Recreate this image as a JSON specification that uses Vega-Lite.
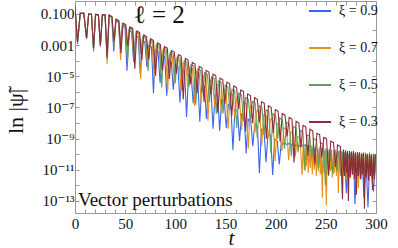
{
"$schema":"https://vega.github.io/schema/vega-lite/v6.json",
"width":301,"height":212,
"autosize":{"type":"none"},
"padding":{"left":75,"top":1,"right":22,"bottom":35},
"background":"white",
"config":{"font":"Liberation Serif, Times New Roman, DejaVu Serif, serif","view":{"stroke":"#999999","strokeWidth":1}},
"data":{"values":[
{"s":"0.9","t":0,"v":0.3},{"s":"0.9","t":2.5,"v":1.2e-3},{"s":"0.9","t":5.2,"v":0.11},{"s":"0.9","t":8.8,"v":0.11},{"s":"0.9","t":11.5,"v":2.5e-3},{"s":"0.9","t":13.6,"v":0.1},{"s":"0.9","t":16.4,"v":0.095},{"s":"0.9","t":18.5,"v":5e-4},{"s":"0.9","t":20.5,"v":0.095},{"s":"0.9","t":23.3,"v":0.09},{"s":"0.9","t":25.3,"v":8e-4},{"s":"0.9","t":27.3,"v":0.09},{"s":"0.9","t":30,"v":0.088},{"s":"0.9","t":32,"v":1.2e-4},
{"s":"0.9","t":33.98,"v":8.3e-2},{"s":"0.9","t":36.62,"v":6.2e-2},{"s":"0.9","t":38.6,"v":3.9e-4},
{"s":"0.9","t":40.58,"v":4.0e-2},{"s":"0.9","t":43.22,"v":3.0e-2},{"s":"0.9","t":45.2,"v":6.0e-4},
{"s":"0.9","t":47.18,"v":1.9e-2},{"s":"0.9","t":49.82,"v":1.4e-2},{"s":"0.9","t":51.8,"v":2.3e-5},
{"s":"0.9","t":53.78,"v":9.2e-3},{"s":"0.9","t":56.42,"v":6.9e-3},{"s":"0.9","t":58.4,"v":8.7e-5},
{"s":"0.9","t":60.38,"v":4.4e-3},{"s":"0.9","t":63.02,"v":3.3e-3},{"s":"0.9","t":65,"v":1.3e-5},
{"s":"0.9","t":66.98,"v":2.1e-3},{"s":"0.9","t":69.62,"v":1.6e-3},{"s":"0.9","t":71.6,"v":4.1e-5},
{"s":"0.9","t":73.58,"v":1.0e-3},{"s":"0.9","t":76.22,"v":7.6e-4},{"s":"0.9","t":78.2,"v":7.8e-7},
{"s":"0.9","t":80.18,"v":4.9e-4},{"s":"0.9","t":82.82,"v":3.7e-4},{"s":"0.9","t":84.8,"v":3.7e-6},
{"s":"0.9","t":86.78,"v":2.4e-4},{"s":"0.9","t":89.42,"v":1.8e-4},{"s":"0.9","t":91.4,"v":5.6e-7},
{"s":"0.9","t":93.38,"v":1.1e-4},{"s":"0.9","t":96.02,"v":8.5e-5},{"s":"0.9","t":98,"v":1.4e-6},
{"s":"0.9","t":99.98,"v":5.5e-5},{"s":"0.9","t":102.62,"v":4.1e-5},{"s":"0.9","t":104.6,"v":2.1e-7},
{"s":"0.9","t":106.58,"v":2.6e-5},{"s":"0.9","t":109.22,"v":2.0e-5},{"s":"0.9","t":111.2,"v":2.5e-8},
{"s":"0.9","t":113.18,"v":1.3e-5},{"s":"0.9","t":115.82,"v":9.5e-6},{"s":"0.9","t":117.8,"v":1.9e-7},
{"s":"0.9","t":119.78,"v":6.1e-6},{"s":"0.9","t":122.42,"v":4.6e-6},{"s":"0.9","t":124.4,"v":1.2e-8},
{"s":"0.9","t":126.38,"v":2.9e-6},{"s":"0.9","t":129.02,"v":2.2e-6},{"s":"0.9","t":131,"v":1.8e-8},
{"s":"0.9","t":132.98,"v":1.4e-6},{"s":"0.9","t":135.62,"v":1.1e-6},{"s":"0.9","t":137.6,"v":4.3e-9},
{"s":"0.9","t":139.58,"v":6.8e-7},{"s":"0.9","t":142.22,"v":5.1e-7},{"s":"0.9","t":144.2,"v":3.2e-9},
{"s":"0.9","t":146.18,"v":3.3e-7},{"s":"0.9","t":148.82,"v":2.4e-7},{"s":"0.9","t":150.8,"v":4.9e-9},
{"s":"0.9","t":152.78,"v":1.6e-7},{"s":"0.9","t":155.42,"v":1.2e-7},{"s":"0.9","t":157.4,"v":1.9e-10},
{"s":"0.9","t":159.38,"v":7.6e-8},{"s":"0.9","t":162.02,"v":5.7e-8},{"s":"0.9","t":164,"v":7.2e-10},
{"s":"0.9","t":165.98,"v":3.7e-8},{"s":"0.9","t":168.62,"v":2.7e-8},{"s":"0.9","t":170.6,"v":1.1e-10},
{"s":"0.9","t":172.58,"v":1.8e-8},{"s":"0.9","t":175.22,"v":1.3e-8},{"s":"0.9","t":177.2,"v":3.3e-10},
{"s":"0.9","t":179.18,"v":8.5e-9},{"s":"0.9","t":181.82,"v":6.3e-9},{"s":"0.9","t":183.8,"v":6.3e-12},
{"s":"0.9","t":185.78,"v":4.1e-9},{"s":"0.9","t":188.42,"v":3.0e-9},{"s":"0.9","t":190.4,"v":3.1e-11},
{"s":"0.9","t":192.38,"v":2.0e-9},{"s":"0.9","t":195.02,"v":1.5e-9},{"s":"0.9","t":197,"v":4.7e-12},
{"s":"0.9","t":198.98,"v":9.4e-10},{"s":"0.9","t":201.62,"v":7.0e-10},{"s":"0.9","t":203.6,"v":2.2e-11},
{"s":"0.9","t":205.6,"v":5.6e-10},{"s":"0.9","t":207.5,"v":4.5e-10},{"s":"0.9","t":209.5,"v":5.2e-10},{"s":"0.9","t":211.5,"v":4.0e-10},{"s":"0.9","t":213.5,"v":5.0e-10},{"s":"0.9","t":215.5,"v":3.8e-10},{"s":"0.9","t":217.5,"v":4.7e-10},{"s":"0.9","t":219.5,"v":3.5e-10},{"s":"0.9","t":221.5,"v":4.4e-10},{"s":"0.9","t":223.5,"v":3.3e-10},{"s":"0.9","t":225.5,"v":4.2e-10},{"s":"0.9","t":227.5,"v":3.2e-10},{"s":"0.9","t":229.5,"v":4.0e-10},{"s":"0.9","t":231.5,"v":2.8e-10},{"s":"0.9","t":233.5,"v":3.5e-10},
{"s":"0.9","t":236,"v":6.3e-11},{"s":"0.9","t":238.5,"v":2.5e-10},{"s":"0.9","t":241,"v":1.6e-11},{"s":"0.9","t":243.5,"v":2.0e-10},{"s":"0.9","t":246,"v":6.3e-12},{"s":"0.9","t":248.5,"v":1.6e-10},{"s":"0.9","t":251,"v":2.5e-11},{"s":"0.9","t":253.5,"v":2.0e-10},{"s":"0.9","t":256,"v":1e-11},{"s":"0.9","t":258.5,"v":1.3e-10},{"s":"0.9","t":261,"v":3.2e-11},{"s":"0.9","t":263.5,"v":1.6e-10},{"s":"0.9","t":266,"v":5.0e-12},{"s":"0.9","t":268.5,"v":1.3e-10},{"s":"0.9","t":270.5,"v":3.2e-13},{"s":"0.9","t":272.5,"v":1.0e-10},{"s":"0.9","t":275,"v":1.6e-11},{"s":"0.9","t":277.5,"v":1.3e-10},{"s":"0.9","t":279,"v":6.3e-14},{"s":"0.9","t":281,"v":7.9e-11},{"s":"0.9","t":283.5,"v":1.3e-11},{"s":"0.9","t":286,"v":1.0e-10},{"s":"0.9","t":288,"v":1.6e-13},{"s":"0.9","t":290,"v":6.3e-11},{"s":"0.9","t":292,"v":4.0e-14},{"s":"0.9","t":294,"v":7.9e-11},{"s":"0.9","t":296,"v":3.2e-12},{"s":"0.9","t":297.5,"v":4.0e-13},{"s":"0.9","t":299.5,"v":5.0e-11},

{"s":"0.7","t":0,"v":0.3},{"s":"0.7","t":2.5,"v":1.5e-3},{"s":"0.7","t":5.2,"v":0.11},{"s":"0.7","t":8.8,"v":0.11},{"s":"0.7","t":11.5,"v":2.7e-3},{"s":"0.7","t":13.6,"v":0.1},{"s":"0.7","t":16.4,"v":0.095},{"s":"0.7","t":18.5,"v":6e-4},{"s":"0.7","t":20.5,"v":0.095},{"s":"0.7","t":23.3,"v":0.09},{"s":"0.7","t":25.3,"v":9e-4},{"s":"0.7","t":27.3,"v":0.09},{"s":"0.7","t":30,"v":0.088},{"s":"0.7","t":32,"v":6e-5},
{"s":"0.7","t":34.01,"v":8.4e-2},{"s":"0.7","t":36.69,"v":6.5e-2},{"s":"0.7","t":38.7,"v":1.1e-3},
{"s":"0.7","t":40.71,"v":4.4e-2},{"s":"0.7","t":43.39,"v":3.4e-2},{"s":"0.7","t":45.4,"v":1.1e-4},
{"s":"0.7","t":47.41,"v":2.3e-2},{"s":"0.7","t":50.09,"v":1.8e-2},{"s":"0.7","t":52.1,"v":5.9e-4},
{"s":"0.7","t":54.11,"v":1.2e-2},{"s":"0.7","t":56.79,"v":9.5e-3},{"s":"0.7","t":58.8,"v":1.0e-4},
{"s":"0.7","t":60.81,"v":6.5e-3},{"s":"0.7","t":63.49,"v":5.0e-3},{"s":"0.7","t":65.5,"v":6.6e-6},
{"s":"0.7","t":67.51,"v":3.4e-3},{"s":"0.7","t":70.19,"v":2.7e-3},{"s":"0.7","t":72.2,"v":6.9e-5},
{"s":"0.7","t":74.21,"v":1.8e-3},{"s":"0.7","t":76.89,"v":1.4e-3},{"s":"0.7","t":78.9,"v":9.2e-6},
{"s":"0.7","t":80.91,"v":9.6e-4},{"s":"0.7","t":83.59,"v":7.4e-4},{"s":"0.7","t":85.6,"v":3.1e-5},
{"s":"0.7","t":87.61,"v":5.0e-4},{"s":"0.7","t":90.29,"v":3.9e-4},{"s":"0.7","t":92.3,"v":1.0e-6},
{"s":"0.7","t":94.31,"v":2.7e-4},{"s":"0.7","t":96.99,"v":2.1e-4},{"s":"0.7","t":99,"v":4.3e-6},
{"s":"0.7","t":101.01,"v":1.4e-4},{"s":"0.7","t":103.69,"v":1.1e-4},{"s":"0.7","t":105.7,"v":1.1e-6},
{"s":"0.7","t":107.71,"v":7.4e-5},{"s":"0.7","t":110.39,"v":5.8e-5},{"s":"0.7","t":112.4,"v":1.9e-6},
{"s":"0.7","t":114.41,"v":3.9e-5},{"s":"0.7","t":117.09,"v":3.0e-5},{"s":"0.7","t":119.1,"v":1.3e-7},
{"s":"0.7","t":121.11,"v":2.1e-5},{"s":"0.7","t":123.79,"v":1.6e-5},{"s":"0.7","t":125.8,"v":2.1e-7},
{"s":"0.7","t":127.81,"v":1.1e-5},{"s":"0.7","t":130.49,"v":8.5e-6},{"s":"0.7","t":132.5,"v":1.4e-8},
{"s":"0.7","t":134.51,"v":5.8e-6},{"s":"0.7","t":137.19,"v":4.5e-6},{"s":"0.7","t":139.2,"v":1.2e-7},
{"s":"0.7","t":141.21,"v":3.0e-6},{"s":"0.7","t":143.89,"v":2.4e-6},{"s":"0.7","t":145.9,"v":3.9e-8},
{"s":"0.7","t":147.91,"v":1.6e-6},{"s":"0.7","t":150.59,"v":1.2e-6},{"s":"0.7","t":152.6,"v":4.1e-9},
{"s":"0.7","t":154.61,"v":8.5e-7},{"s":"0.7","t":157.29,"v":6.6e-7},{"s":"0.7","t":159.3,"v":2.2e-8},
{"s":"0.7","t":161.31,"v":4.5e-7},{"s":"0.7","t":163.99,"v":3.5e-7},{"s":"0.7","t":166,"v":3.6e-9},
{"s":"0.7","t":168.01,"v":2.4e-7},{"s":"0.7","t":170.69,"v":1.8e-7},{"s":"0.7","t":172.7,"v":2.4e-10},
{"s":"0.7","t":174.71,"v":1.3e-7},{"s":"0.7","t":177.39,"v":9.7e-8},{"s":"0.7","t":179.4,"v":2.5e-9},
{"s":"0.7","t":181.41,"v":6.6e-8},{"s":"0.7","t":184.09,"v":5.1e-8},{"s":"0.7","t":186.1,"v":3.4e-10},
{"s":"0.7","t":188.11,"v":3.5e-8},{"s":"0.7","t":190.79,"v":2.7e-8},{"s":"0.7","t":192.8,"v":1.1e-9},
{"s":"0.7","t":194.81,"v":1.8e-8},{"s":"0.7","t":197.49,"v":1.4e-8},{"s":"0.7","t":199.5,"v":3.7e-11},
{"s":"0.7","t":201.51,"v":9.7e-9},{"s":"0.7","t":204.19,"v":7.5e-9},{"s":"0.7","t":206.2,"v":1.6e-10},
{"s":"0.7","t":208.21,"v":5.1e-9},{"s":"0.7","t":210.89,"v":4.0e-9},{"s":"0.7","t":212.9,"v":4.2e-11},
{"s":"0.7","t":214.91,"v":2.7e-9},{"s":"0.7","t":217.59,"v":2.1e-9},{"s":"0.7","t":219.6,"v":6.9e-11},
{"s":"0.7","t":221.61,"v":1.4e-9},{"s":"0.7","t":224.29,"v":1.1e-9},{"s":"0.7","t":226.3,"v":4.6e-12},
{"s":"0.7","t":227.5,"v":5.0e-10},{"s":"0.7","t":228.5,"v":1.0e-11},{"s":"0.7","t":229.5,"v":3.5e-10},{"s":"0.7","t":230.5,"v":1.6e-11},{"s":"0.7","t":231.5,"v":4.0e-10},{"s":"0.7","t":232.5,"v":6.3e-12},{"s":"0.7","t":233.5,"v":3.2e-10},{"s":"0.7","t":234.5,"v":1.3e-11},{"s":"0.7","t":235.5,"v":3.5e-10},{"s":"0.7","t":236.5,"v":5.0e-12},{"s":"0.7","t":237.5,"v":2.8e-10},{"s":"0.7","t":238.5,"v":1.0e-11},{"s":"0.7","t":239.5,"v":3.2e-10},{"s":"0.7","t":240.5,"v":4.0e-12},{"s":"0.7","t":241.5,"v":2.5e-10},{"s":"0.7","t":242.5,"v":7.9e-12},{"s":"0.7","t":243.5,"v":2.8e-10},{"s":"0.7","t":244.5,"v":5.0e-12},{"s":"0.7","t":245.5,"v":2.5e-10},{"s":"0.7","t":246.5,"v":1.6e-13},{"s":"0.7","t":247.5,"v":2.2e-10},{"s":"0.7","t":248.5,"v":6.3e-12},{"s":"0.7","t":249.5,"v":2.5e-10},{"s":"0.7","t":250.5,"v":5.0e-14},{"s":"0.7","t":251.5,"v":2.0e-10},{"s":"0.7","t":252.5,"v":5.0e-12},{"s":"0.7","t":253.5,"v":2.2e-10},{"s":"0.7","t":254.5,"v":7.9e-12},{"s":"0.7","t":255.5,"v":2.0e-10},{"s":"0.7","t":256.5,"v":3.2e-12},{"s":"0.7","t":257.5,"v":1.8e-10},{"s":"0.7","t":258.5,"v":6.3e-12},{"s":"0.7","t":259.5,"v":2.0e-10},{"s":"0.7","t":260.5,"v":4.0e-12},{"s":"0.7","t":261.5,"v":1.6e-10},{"s":"0.7","t":262.5,"v":3.2e-13},{"s":"0.7","t":263.5,"v":1.8e-10},{"s":"0.7","t":264.5,"v":5.0e-12},{"s":"0.7","t":265.5,"v":1.6e-10},{"s":"0.7","t":266.5,"v":3.2e-12},{"s":"0.7","t":267.5,"v":1.8e-10},{"s":"0.7","t":268.5,"v":6.3e-12},{"s":"0.7","t":269.5,"v":1.4e-10},{"s":"0.7","t":270.5,"v":2.5e-12},{"s":"0.7","t":271.5,"v":1.6e-10},{"s":"0.7","t":272.5,"v":5.0e-12},{"s":"0.7","t":273.5,"v":1.4e-10},{"s":"0.7","t":274.5,"v":3.2e-12},{"s":"0.7","t":275.5,"v":1.6e-10},{"s":"0.7","t":276.5,"v":5.0e-12},{"s":"0.7","t":277.5,"v":1.3e-10},{"s":"0.7","t":278.5,"v":2.5e-12},{"s":"0.7","t":279.5,"v":1.4e-10},{"s":"0.7","t":280.5,"v":4.0e-12},{"s":"0.7","t":281.5,"v":1.3e-10},{"s":"0.7","t":282.5,"v":6.3e-13},{"s":"0.7","t":283.5,"v":1.4e-10},{"s":"0.7","t":284.5,"v":3.2e-12},{"s":"0.7","t":285.5,"v":1.3e-10},{"s":"0.7","t":286.5,"v":5.0e-12},{"s":"0.7","t":287.5,"v":1.1e-10},{"s":"0.7","t":288.5,"v":2.5e-12},{"s":"0.7","t":289.5,"v":1.3e-10},{"s":"0.7","t":290.5,"v":4.0e-12},{"s":"0.7","t":291.5,"v":1.1e-10},{"s":"0.7","t":292.5,"v":2.0e-12},{"s":"0.7","t":293.5,"v":1.3e-10},{"s":"0.7","t":294.5,"v":4.0e-12},{"s":"0.7","t":295.5,"v":1.0e-10},{"s":"0.7","t":296.5,"v":2.5e-12},{"s":"0.7","t":297.5,"v":1.1e-10},{"s":"0.7","t":298.5,"v":3.2e-12},{"s":"0.7","t":299.5,"v":1.0e-10},

{"s":"0.5","t":0,"v":0.3},{"s":"0.5","t":2.5,"v":1.5e-3},{"s":"0.5","t":5.2,"v":0.11},{"s":"0.5","t":8.8,"v":0.11},{"s":"0.5","t":11.5,"v":2.8e-3},{"s":"0.5","t":13.6,"v":0.1},{"s":"0.5","t":16.4,"v":0.095},{"s":"0.5","t":18.5,"v":4e-4},{"s":"0.5","t":20.5,"v":0.095},{"s":"0.5","t":23.3,"v":0.09},{"s":"0.5","t":25.3,"v":1e-3},{"s":"0.5","t":27.3,"v":0.09},{"s":"0.5","t":30,"v":0.088},{"s":"0.5","t":32,"v":1.5e-4},
{"s":"0.5","t":34.04,"v":8.4e-2},{"s":"0.5","t":36.76,"v":6.6e-2},{"s":"0.5","t":38.8,"v":6.9e-4},
{"s":"0.5","t":40.84,"v":4.6e-2},{"s":"0.5","t":43.56,"v":3.6e-2},{"s":"0.5","t":45.6,"v":1.2e-3},
{"s":"0.5","t":47.64,"v":2.5e-2},{"s":"0.5","t":50.36,"v":1.9e-2},{"s":"0.5","t":52.4,"v":8.1e-5},
{"s":"0.5","t":54.44,"v":1.4e-2},{"s":"0.5","t":57.16,"v":1.1e-2},{"s":"0.5","t":59.2,"v":2.2e-4},
{"s":"0.5","t":61.24,"v":7.4e-3},{"s":"0.5","t":63.96,"v":5.8e-3},{"s":"0.5","t":66,"v":2.4e-4},
{"s":"0.5","t":68.04,"v":4.0e-3},{"s":"0.5","t":70.76,"v":3.1e-3},{"s":"0.5","t":72.8,"v":2.1e-5},
{"s":"0.5","t":74.84,"v":2.2e-3},{"s":"0.5","t":77.56,"v":1.7e-3},{"s":"0.5","t":79.6,"v":2.8e-5},
{"s":"0.5","t":81.64,"v":1.2e-3},{"s":"0.5","t":84.36,"v":9.3e-4},{"s":"0.5","t":86.4,"v":1.9e-6},
{"s":"0.5","t":88.44,"v":6.5e-4},{"s":"0.5","t":91.16,"v":5.1e-4},{"s":"0.5","t":93.2,"v":1.7e-5},
{"s":"0.5","t":95.24,"v":3.5e-4},{"s":"0.5","t":97.96,"v":2.8e-4},{"s":"0.5","t":100,"v":3.6e-6},
{"s":"0.5","t":102.04,"v":1.9e-4},{"s":"0.5","t":104.76,"v":1.5e-4},{"s":"0.5","t":106.8,"v":1.3e-6},
{"s":"0.5","t":108.84,"v":1.0e-4},{"s":"0.5","t":111.56,"v":8.2e-5},{"s":"0.5","t":113.6,"v":2.1e-6},
{"s":"0.5","t":115.64,"v":5.7e-5},{"s":"0.5","t":118.36,"v":4.5e-5},{"s":"0.5","t":120.4,"v":1.5e-7},
{"s":"0.5","t":122.44,"v":3.1e-5},{"s":"0.5","t":125.16,"v":2.4e-5},{"s":"0.5","t":127.2,"v":1.0e-6},
{"s":"0.5","t":129.24,"v":1.7e-5},{"s":"0.5","t":131.96,"v":1.3e-5},{"s":"0.5","t":134,"v":2.2e-7},
{"s":"0.5","t":136.04,"v":9.2e-6},{"s":"0.5","t":138.76,"v":7.2e-6},{"s":"0.5","t":140.8,"v":3.8e-8},
{"s":"0.5","t":142.84,"v":5.0e-6},{"s":"0.5","t":145.56,"v":3.9e-6},{"s":"0.5","t":147.6,"v":4.1e-8},
{"s":"0.5","t":149.64,"v":2.7e-6},{"s":"0.5","t":152.36,"v":2.1e-6},{"s":"0.5","t":154.4,"v":7.1e-8},
{"s":"0.5","t":156.44,"v":1.5e-6},{"s":"0.5","t":159.16,"v":1.2e-6},{"s":"0.5","t":161.2,"v":4.9e-9},
{"s":"0.5","t":163.24,"v":8.1e-7},{"s":"0.5","t":165.96,"v":6.3e-7},{"s":"0.5","t":168,"v":1.3e-8},
{"s":"0.5","t":170.04,"v":4.4e-7},{"s":"0.5","t":172.76,"v":3.4e-7},{"s":"0.5","t":174.8,"v":1.4e-8},
{"s":"0.5","t":176.84,"v":2.4e-7},{"s":"0.5","t":179.56,"v":1.9e-7},{"s":"0.5","t":181.6,"v":1.2e-9},
{"s":"0.5","t":183.64,"v":1.3e-7},{"s":"0.5","t":186.36,"v":1.0e-7},{"s":"0.5","t":188.4,"v":1.7e-9},
{"s":"0.5","t":190.44,"v":7.1e-8},{"s":"0.5","t":193.16,"v":5.6e-8},{"s":"0.5","t":195.2,"v":1.2e-10},
{"s":"0.5","t":197.24,"v":3.9e-8},{"s":"0.5","t":199.96,"v":3.0e-8},{"s":"0.5","t":202,"v":1.0e-9},
{"s":"0.5","t":204.04,"v":2.1e-8},{"s":"0.5","t":206.76,"v":1.6e-8},{"s":"0.5","t":208.8,"v":2.2e-10},
{"s":"0.5","t":210.84,"v":1.1e-8},{"s":"0.5","t":213.56,"v":9.0e-9},{"s":"0.5","t":215.6,"v":7.4e-11},
{"s":"0.5","t":217.64,"v":6.2e-9},{"s":"0.5","t":220.36,"v":4.9e-9},{"s":"0.5","t":222.4,"v":1.3e-10},
{"s":"0.5","t":224.44,"v":3.4e-9},{"s":"0.5","t":227.16,"v":2.7e-9},{"s":"0.5","t":229.2,"v":8.9e-12},
{"s":"0.5","t":231.24,"v":1.8e-9},{"s":"0.5","t":233.96,"v":1.4e-9},{"s":"0.5","t":236,"v":6.0e-11},
{"s":"0.5","t":238.04,"v":1.0e-9},{"s":"0.5","t":240.76,"v":7.9e-10},{"s":"0.5","t":242.8,"v":1.3e-11},
{"s":"0.5","t":244.84,"v":5.5e-10},{"s":"0.5","t":247.56,"v":4.3e-10},{"s":"0.5","t":249.6,"v":1e-12},
{"s":"0.5","t":251,"v":2.0e-10},{"s":"0.5","t":253,"v":1.0e-11},{"s":"0.5","t":255,"v":1.8e-10},{"s":"0.5","t":257,"v":5.0e-12},{"s":"0.5","t":259,"v":1.6e-10},{"s":"0.5","t":261,"v":7.9e-12},{"s":"0.5","t":263,"v":1.6e-10},{"s":"0.5","t":265,"v":4.0e-12},{"s":"0.5","t":267,"v":1.4e-10},{"s":"0.5","t":269,"v":6.3e-12},{"s":"0.5","t":271,"v":1.3e-10},{"s":"0.5","t":273,"v":3.2e-12},{"s":"0.5","t":275,"v":1.3e-10},{"s":"0.5","t":277,"v":5.0e-12},{"s":"0.5","t":279,"v":1.1e-10},{"s":"0.5","t":281,"v":4.0e-12},{"s":"0.5","t":283,"v":1.1e-10},{"s":"0.5","t":285,"v":2.5e-12},{"s":"0.5","t":287,"v":1.0e-10},{"s":"0.5","t":289,"v":5.0e-12},{"s":"0.5","t":291,"v":1.0e-10},{"s":"0.5","t":293,"v":3.2e-12},{"s":"0.5","t":295,"v":8.9e-11},{"s":"0.5","t":297,"v":4.0e-12},{"s":"0.5","t":299,"v":1.0e-10},

{"s":"0.3","t":0,"v":0.3},{"s":"0.3","t":2.5,"v":1.6e-3},{"s":"0.3","t":5.2,"v":0.11},{"s":"0.3","t":8.8,"v":0.11},{"s":"0.3","t":11.5,"v":2.9e-3},{"s":"0.3","t":13.6,"v":0.1},{"s":"0.3","t":16.4,"v":0.095},{"s":"0.3","t":18.5,"v":6.6e-4},{"s":"0.3","t":20.5,"v":0.095},{"s":"0.3","t":23.3,"v":0.09},{"s":"0.3","t":25.3,"v":1e-3},{"s":"0.3","t":27.3,"v":0.09},{"s":"0.3","t":30,"v":0.088},{"s":"0.3","t":32,"v":1.7e-4},
{"s":"0.3","t":34.07,"v":8.4e-2},{"s":"0.3","t":36.83,"v":6.7e-2},{"s":"0.3","t":38.9,"v":1.8e-3},
{"s":"0.3","t":40.97,"v":4.7e-2},{"s":"0.3","t":43.73,"v":3.7e-2},{"s":"0.3","t":45.8,"v":3.2e-4},
{"s":"0.3","t":47.87,"v":2.6e-2},{"s":"0.3","t":50.63,"v":2.1e-2},{"s":"0.3","t":52.7,"v":8.7e-4},
{"s":"0.3","t":54.77,"v":1.5e-2},{"s":"0.3","t":57.53,"v":1.2e-2},{"s":"0.3","t":59.6,"v":3.1e-5},
{"s":"0.3","t":61.67,"v":8.2e-3},{"s":"0.3","t":64.43,"v":6.5e-3},{"s":"0.3","t":66.5,"v":1.1e-4},
{"s":"0.3","t":68.57,"v":4.6e-3},{"s":"0.3","t":71.33,"v":3.6e-3},{"s":"0.3","t":73.4,"v":1.2e-4},
{"s":"0.3","t":75.47,"v":2.6e-3},{"s":"0.3","t":78.23,"v":2.0e-3},{"s":"0.3","t":80.3,"v":1.1e-5},
{"s":"0.3","t":82.37,"v":1.4e-3},{"s":"0.3","t":85.13,"v":1.1e-3},{"s":"0.3","t":87.2,"v":2.4e-5},
{"s":"0.3","t":89.27,"v":8.0e-4},{"s":"0.3","t":92.03,"v":6.4e-4},{"s":"0.3","t":94.1,"v":6.8e-6},
{"s":"0.3","t":96.17,"v":4.5e-4},{"s":"0.3","t":98.93,"v":3.6e-4},{"s":"0.3","t":101,"v":1.5e-5},
{"s":"0.3","t":103.07,"v":2.5e-4},{"s":"0.3","t":105.83,"v":2.0e-4},{"s":"0.3","t":107.9,"v":3.3e-7},
{"s":"0.3","t":109.97,"v":1.4e-4},{"s":"0.3","t":112.73,"v":1.1e-4},{"s":"0.3","t":114.8,"v":3.0e-6},
{"s":"0.3","t":116.87,"v":7.8e-5},{"s":"0.3","t":119.63,"v":6.2e-5},{"s":"0.3","t":121.7,"v":8.3e-7},
{"s":"0.3","t":123.77,"v":4.4e-5},{"s":"0.3","t":126.53,"v":3.5e-5},{"s":"0.3","t":128.6,"v":2.3e-7},
{"s":"0.3","t":130.67,"v":2.4e-5},{"s":"0.3","t":133.43,"v":1.9e-5},{"s":"0.3","t":135.5,"v":6.5e-7},
{"s":"0.3","t":137.57,"v":1.4e-5},{"s":"0.3","t":140.33,"v":1.1e-5},{"s":"0.3","t":142.4,"v":4.6e-8},
{"s":"0.3","t":144.47,"v":7.7e-6},{"s":"0.3","t":147.23,"v":6.1e-6},{"s":"0.3","t":149.3,"v":1.6e-7},
{"s":"0.3","t":151.37,"v":4.3e-6},{"s":"0.3","t":154.13,"v":3.4e-6},{"s":"0.3","t":156.2,"v":2.8e-8},
{"s":"0.3","t":158.27,"v":2.4e-6},{"s":"0.3","t":161.03,"v":1.9e-6},{"s":"0.3","t":163.1,"v":8.0e-8},
{"s":"0.3","t":165.17,"v":1.3e-6},{"s":"0.3","t":167.93,"v":1.1e-6},{"s":"0.3","t":170,"v":2.8e-9},
{"s":"0.3","t":172.07,"v":7.5e-7},{"s":"0.3","t":174.83,"v":5.9e-7},{"s":"0.3","t":176.9,"v":1.0e-8},
{"s":"0.3","t":178.97,"v":4.2e-7},{"s":"0.3","t":181.73,"v":3.3e-7},{"s":"0.3","t":183.8,"v":1.1e-8},
{"s":"0.3","t":185.87,"v":2.3e-7},{"s":"0.3","t":188.63,"v":1.9e-7},{"s":"0.3","t":190.7,"v":9.8e-10},
{"s":"0.3","t":192.77,"v":1.3e-7},{"s":"0.3","t":195.53,"v":1.0e-7},{"s":"0.3","t":197.6,"v":2.2e-9},
{"s":"0.3","t":199.67,"v":7.3e-8},{"s":"0.3","t":202.43,"v":5.8e-8},{"s":"0.3","t":204.5,"v":6.2e-10},
{"s":"0.3","t":206.57,"v":4.1e-8},{"s":"0.3","t":209.33,"v":3.2e-8},{"s":"0.3","t":211.4,"v":1.4e-9},
{"s":"0.3","t":213.47,"v":2.3e-8},{"s":"0.3","t":216.23,"v":1.8e-8},{"s":"0.3","t":218.3,"v":3.0e-11},
{"s":"0.3","t":220.37,"v":1.3e-8},{"s":"0.3","t":223.13,"v":1.0e-8},{"s":"0.3","t":225.2,"v":2.7e-10},
{"s":"0.3","t":227.27,"v":7.1e-9},{"s":"0.3","t":230.03,"v":5.7e-9},{"s":"0.3","t":232.1,"v":7.6e-11},
{"s":"0.3","t":234.17,"v":4.0e-9},{"s":"0.3","t":236.93,"v":3.2e-9},{"s":"0.3","t":239,"v":2.1e-11},
{"s":"0.3","t":241.07,"v":2.2e-9},{"s":"0.3","t":243.83,"v":1.8e-9},{"s":"0.3","t":245.9,"v":5.9e-11},
{"s":"0.3","t":247.97,"v":1.2e-9},{"s":"0.3","t":250.73,"v":9.9e-10},{"s":"0.3","t":252.8,"v":4.2e-12},
{"s":"0.3","t":254.87,"v":7.0e-10},{"s":"0.3","t":257.63,"v":5.5e-10},{"s":"0.3","t":259.7,"v":1.5e-11},
{"s":"0.3","t":261.77,"v":3.9e-10},{"s":"0.3","t":264.53,"v":3.1e-10},{"s":"0.3","t":266.6,"v":1.3e-13},
{"s":"0.3","t":267.5,"v":2.0e-10},{"s":"0.3","t":268.5,"v":4.0e-12},{"s":"0.3","t":269.5,"v":1.8e-10},{"s":"0.3","t":270.5,"v":6.3e-12},{"s":"0.3","t":271.5,"v":1.6e-10},{"s":"0.3","t":272.5,"v":1.0e-13},{"s":"0.3","t":273.5,"v":1.6e-10},{"s":"0.3","t":274.5,"v":3.2e-12},{"s":"0.3","t":275.5,"v":1.4e-10},{"s":"0.3","t":276.5,"v":5.0e-12},{"s":"0.3","t":277.5,"v":1.6e-10},{"s":"0.3","t":278.5,"v":2.5e-12},{"s":"0.3","t":279.5,"v":1.3e-10},{"s":"0.3","t":280.5,"v":2.5e-13},{"s":"0.3","t":281.5,"v":1.4e-10},{"s":"0.3","t":282.5,"v":4.0e-12},{"s":"0.3","t":283.5,"v":1.3e-10},{"s":"0.3","t":284.5,"v":2.5e-12},{"s":"0.3","t":285.5,"v":1.1e-10},{"s":"0.3","t":286.5,"v":5.0e-12},{"s":"0.3","t":287.5,"v":1.3e-10},{"s":"0.3","t":288.5,"v":3.2e-14},{"s":"0.3","t":289.5,"v":1.1e-10},{"s":"0.3","t":290.5,"v":3.2e-12},{"s":"0.3","t":291.5,"v":1.0e-10},{"s":"0.3","t":292.5,"v":2.0e-12},{"s":"0.3","t":293.5,"v":1.1e-10},{"s":"0.3","t":294.5,"v":4.0e-12},{"s":"0.3","t":295.5,"v":1.0e-10},{"s":"0.3","t":296.5,"v":5.0e-13},{"s":"0.3","t":297.5,"v":8.9e-11},{"s":"0.3","t":298.5,"v":2.5e-12},{"s":"0.3","t":299.5,"v":1.0e-10}
]},
"resolve":{"axis":{"x":"independent","y":"independent"}},
"layer":[
{"transform":[{"filter":"datum.s == '0.9'"}],
 "mark":{"type":"line","strokeWidth":1.1,"clip":true},
 "encoding":{
  "x":{"field":"t","type":"quantitative","scale":{"domain":[0,300],"nice":false},
   "axis":{"orient":"bottom","values":[0,10,20,30,40,50,60,70,80,90,100,110,120,130,140,150,160,170,180,190,200,210,220,230,240,250,260,270,280,290,300],
    "labelExpr":"datum.value % 50 == 0 ? datum.label : ''","labelFlush":false,"labelOverlap":false,"domain":false,"grid":false,
    "tickSize":-4,"tickColor":"#999","labelFont":"Liberation Serif, Times New Roman, DejaVu Serif, serif","labelFontSize":15,"labelColor":"#111","labelPadding":7,
    "title":"t","titleFont":"Liberation Serif, Times New Roman, DejaVu Serif, serif","titleFontStyle":"italic","titleFontWeight":"normal","titleFontSize":21,"titleColor":"#111","titleX":156,"titleY":35,"titleBaseline":"bottom"}},
  "y":{"field":"v","type":"quantitative","scale":{"type":"log","domain":[1.69e-14,0.682],"nice":false},
   "axis":{"orient":"left","values":[0.1,0.01,0.001,1e-4,1e-5,1e-6,1e-7,1e-8,1e-9,1e-10,1e-11,1e-12,1e-13],
    "labelExpr":"round(log(datum.value)/LN10) == -1 ? '0.100' : round(log(datum.value)/LN10) == -3 ? '0.001' : round(log(datum.value)/LN10) == -5 ? '10⁻⁵' : round(log(datum.value)/LN10) == -7 ? '10⁻⁷' : round(log(datum.value)/LN10) == -9 ? '10⁻⁹' : round(log(datum.value)/LN10) == -11 ? '10⁻¹¹' : round(log(datum.value)/LN10) == -13 ? '10⁻¹³' : ''",
    "labelOverlap":false,"labelFlush":false,"domain":false,"grid":false,"tickSize":-4,"tickColor":"#999","labelFont":"Liberation Serif, Times New Roman, DejaVu Serif, serif","labelFontSize":15,"labelColor":"#111","labelPadding":5,
    "title":"ln |ψ̃|","titleFont":"Liberation Serif, Times New Roman, DejaVu Serif, serif","titleFontWeight":"normal","titleFontSize":22,"titleColor":"#111","titleX":-60,"titleY":110,"titleBaseline":"middle"}},
  "color":{"field":"s","type":"nominal","scale":{"domain":["0.9","0.7","0.5","0.3"],"range":["#3A66E8","#E8901C","#5FA05A","#8C2D3E"]},
   "legend":{"orient":"none","legendX":233,"legendY":-2,"title":null,"padding":0,"symbolType":"stroke","symbolSize":484,"symbolStrokeWidth":2,"labelFont":"Liberation Serif, Times New Roman, DejaVu Serif, serif","labelFontSize":14,"labelColor":"#111","labelOffset":7,"rowPadding":18,"labelExpr":"'ξ = ' + datum.label"}}}},
{"transform":[{"filter":"datum.s == '0.7'"}],
 "mark":{"type":"line","strokeWidth":1.1,"clip":true},
 "encoding":{
  "x":{"field":"t","type":"quantitative","scale":{"domain":[0,300],"nice":false},"axis":null},
  "y":{"field":"v","type":"quantitative","scale":{"type":"log","domain":[1.69e-14,0.682],"nice":false},"axis":null},
  "color":{"field":"s","type":"nominal","scale":{"domain":["0.9","0.7","0.5","0.3"],"range":["#3A66E8","#E8901C","#5FA05A","#8C2D3E"]},
   "legend":{"orient":"none","legendX":233,"legendY":-2,"title":null,"padding":0,"symbolType":"stroke","symbolSize":484,"symbolStrokeWidth":2,"labelFont":"Liberation Serif, Times New Roman, DejaVu Serif, serif","labelFontSize":14,"labelColor":"#111","labelOffset":7,"rowPadding":18,"labelExpr":"'ξ = ' + datum.label"}}}},
{"transform":[{"filter":"datum.s == '0.5'"}],
 "mark":{"type":"line","strokeWidth":1.1,"clip":true},
 "encoding":{
  "x":{"field":"t","type":"quantitative","scale":{"domain":[0,300],"nice":false},"axis":null},
  "y":{"field":"v","type":"quantitative","scale":{"type":"log","domain":[1.69e-14,0.682],"nice":false},"axis":null},
  "color":{"field":"s","type":"nominal","scale":{"domain":["0.9","0.7","0.5","0.3"],"range":["#3A66E8","#E8901C","#5FA05A","#8C2D3E"]},
   "legend":{"orient":"none","legendX":233,"legendY":-2,"title":null,"padding":0,"symbolType":"stroke","symbolSize":484,"symbolStrokeWidth":2,"labelFont":"Liberation Serif, Times New Roman, DejaVu Serif, serif","labelFontSize":14,"labelColor":"#111","labelOffset":7,"rowPadding":18,"labelExpr":"'ξ = ' + datum.label"}}}},
{"transform":[{"filter":"datum.s == '0.3'"}],
 "mark":{"type":"line","strokeWidth":1.1,"clip":true},
 "encoding":{
  "x":{"field":"t","type":"quantitative","scale":{"domain":[0,300],"nice":false},"axis":null},
  "y":{"field":"v","type":"quantitative","scale":{"type":"log","domain":[1.69e-14,0.682],"nice":false},"axis":null},
  "color":{"field":"s","type":"nominal","scale":{"domain":["0.9","0.7","0.5","0.3"],"range":["#3A66E8","#E8901C","#5FA05A","#8C2D3E"]},
   "legend":{"orient":"none","legendX":233,"legendY":-2,"title":null,"padding":0,"symbolType":"stroke","symbolSize":484,"symbolStrokeWidth":2,"labelFont":"Liberation Serif, Times New Roman, DejaVu Serif, serif","labelFontSize":14,"labelColor":"#111","labelOffset":7,"rowPadding":18,"labelExpr":"'ξ = ' + datum.label"}}}},
{"data":{"values":[{"t":84,"v":0.085,"label":"ℓ = 2"}]},
 "mark":{"type":"text","font":"Liberation Serif, Times New Roman, DejaVu Serif, serif","fontSize":25,"align":"center","baseline":"middle","color":"#111"},
 "encoding":{
  "x":{"field":"t","type":"quantitative","scale":{"domain":[0,300],"nice":false},
   "axis":{"orient":"top","values":[0,10,20,30,40,50,60,70,80,90,100,110,120,130,140,150,160,170,180,190,200,210,220,230,240,250,260,270,280,290,300],"labels":false,"domain":false,"grid":false,"tickSize":-4,"tickColor":"#999","title":null}},
  "y":{"field":"v","type":"quantitative","scale":{"type":"log","domain":[1.69e-14,0.682],"nice":false},
   "axis":{"orient":"right","values":[0.1,0.01,0.001,1e-4,1e-5,1e-6,1e-7,1e-8,1e-9,1e-10,1e-11,1e-12,1e-13],"labels":false,"domain":false,"grid":false,"tickSize":-4,"tickColor":"#999","title":null}},
  "text":{"field":"label"}}},
{"data":{"values":[{"t":3,"v":1.2e-13,"label":"Vector perturbations"}]},
 "mark":{"type":"text","font":"Liberation Serif, Times New Roman, DejaVu Serif, serif","fontSize":19,"align":"left","baseline":"middle","color":"#111"},
 "encoding":{
  "x":{"field":"t","type":"quantitative","scale":{"domain":[0,300],"nice":false},"axis":null},
  "y":{"field":"v","type":"quantitative","scale":{"type":"log","domain":[1.69e-14,0.682],"nice":false},"axis":null},
  "text":{"field":"label"}}}
]
}
